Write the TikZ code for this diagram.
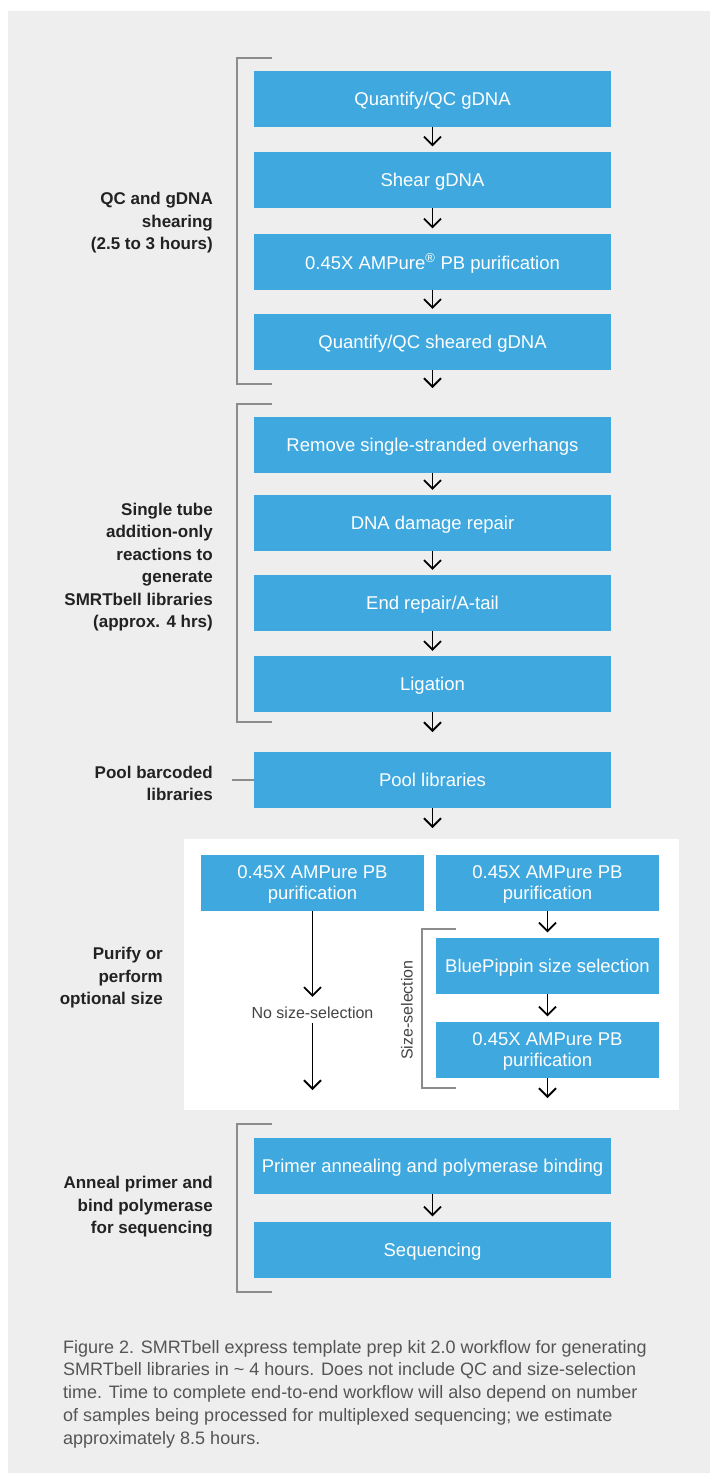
\documentclass[tikz,border=0pt]{standalone}
\usepackage{fontspec}
\setmainfont{Liberation Sans}
\usetikzlibrary{arrows.meta}
\definecolor{pbblue}{HTML}{3FA9DF}
\definecolor{panelgray}{HTML}{EEEEEE}
\definecolor{bracketgray}{HTML}{8C8C8C}
\definecolor{labelblack}{HTML}{222222}
\definecolor{notegray}{HTML}{444444}
\definecolor{captiongray}{HTML}{555555}
\tikzset{
  stepbox/.style={fill=pbblue, text=white, minimum width=357pt, minimum height=56pt,
    inner sep=0pt, text depth=-4pt, align=center, font=\fontsize{18.5}{21}\selectfont},
  halfbox/.style={stepbox, minimum width=223pt},
  flow/.style={draw=black, line width=1.8pt, -{Straight Barb[length=8.5pt,width=17pt]}, shorten >=5pt},
  bracket/.style={draw=bracketgray, line width=2.5pt},
  grouplabel/.style={anchor=east, align=right, inner sep=0pt, text=labelblack,
    font=\bfseries\fontsize{17}{22.5}\selectfont},
  note/.style={inner sep=0pt, text=notegray, font=\fontsize{16}{18}\selectfont},
}
\begin{document}
\begin{tikzpicture}[x=1pt,y=-1pt]
\useasboundingbox (0,0) rectangle (710,1473);
\fill[white] (0,0) rectangle (710,1473);
\fill[panelgray] (8,11) rectangle (710,1473);
% QC and shearing
\node[stepbox] (qc) at (432.5,98.5) {Quantify/QC gDNA};
\node[stepbox] (shear) at (432.5,179.5) {Shear gDNA};
\node[stepbox] (ampA) at (432.5,261.5) {0.45X AMPure\textsuperscript{®} PB purification};
\node[stepbox] (qcsh) at (432.5,342) {Quantify/QC sheared gDNA};
\coordinate (qcend) at (432.5,393);
\draw[flow] (qc) -- (shear);
\draw[flow] (shear) -- (ampA);
\draw[flow] (ampA) -- (qcsh);
\draw[flow] (qcsh) -- (qcend);
\draw[bracket] (272,58) -- (237,58) -- (237,384) -- (272,384);
\node[grouplabel] (qclab) at (213,223) {QC and gDNA\\shearing\\(2.5 to 3 hours)};
% single tube reactions
\node[stepbox] (remove) at (432.5,445) {Remove single-stranded overhangs};
\node[stepbox] (damage) at (432.5,523) {DNA damage repair};
\node[stepbox] (endrep) at (432.5,603) {End repair/A-tail};
\node[stepbox] (ligate) at (432.5,684) {Ligation};
\coordinate (ligend) at (432.5,737);
\draw[flow] (remove) -- (damage);
\draw[flow] (damage) -- (endrep);
\draw[flow] (endrep) -- (ligate);
\draw[flow] (ligate) -- (ligend);
\draw[bracket] (272,404) -- (237,404) -- (237,722) -- (272,722);
\node[grouplabel] (tubelab) at (213,567) {Single tube\\addition-only\\reactions to\\generate\\SMRTbell libraries\\(approx. 4 hrs)};
% pooling
\node[stepbox] (pool) at (432.5,780) {Pool libraries};
\coordinate (poolend) at (432.5,833);
\draw[flow] (pool) -- (poolend);
\node[grouplabel] (poollab) at (213,783.5) {Pool barcoded\\libraries};
\draw[bracket] (232,780) -- (pool.west);
% purification / size selection
\fill[white] (184,839) rectangle (679,1110);
\node[halfbox] (lpur) at (312.5,883) {0.45X AMPure PB\\purification};
\node[halfbox] (rpur) at (547.5,883) {0.45X AMPure PB\\purification};
\node[note] (nosize) at (312.5,1013) {No size-selection};
\coordinate (nosizeend) at (312.5,1095);
\draw[flow, shorten >=10pt] (lpur) -- (nosize);
\draw[flow, shorten <=4pt] (nosize) -- (nosizeend);
\node[halfbox] (pippin) at (547.5,965.5) {BluePippin size selection};
\node[halfbox] (ampC) at (547.5,1049.5) {0.45X AMPure PB\\purification};
\coordinate (ampCend) at (547.5,1103);
\draw[flow] (rpur) -- (pippin);
\draw[flow] (pippin) -- (ampC);
\draw[flow] (ampC) -- (ampCend);
\draw[bracket] (456,929) -- (422,929) -- (422,1088) -- (456,1088);
\node[note, rotate=90] (sizelab) at (407,1010) {Size-selection};
\node[grouplabel] (purlab) at (163,978) {Purify or\\perform\\optional size};
% annealing and sequencing
\node[stepbox] (primer) at (432.5,1165.5) {Primer annealing and polymerase binding};
\node[stepbox] (seq) at (432.5,1249.5) {Sequencing};
\draw[flow] (primer) -- (seq);
\draw[bracket] (272,1124) -- (237,1124) -- (237,1292) -- (272,1292);
\node[grouplabel] (annlab) at (213,1207) {Anneal primer and\\bind polymerase\\for sequencing};
% caption
\node[anchor=north west, align=left, inner sep=0pt, text=captiongray,
  font=\fontsize{18}{22.7}\selectfont] (caption) at (63,1340)
  {Figure 2. SMRTbell express template prep kit 2.0 workflow for generating\\
   SMRTbell libraries in \textasciitilde{} 4 hours. Does not include QC and size-selection\\
   time. Time to complete end-to-end workflow will also depend on number\\
   of samples being processed for multiplexed sequencing; we estimate\\
   approximately 8.5 hours.};
\end{tikzpicture}
\end{document}
